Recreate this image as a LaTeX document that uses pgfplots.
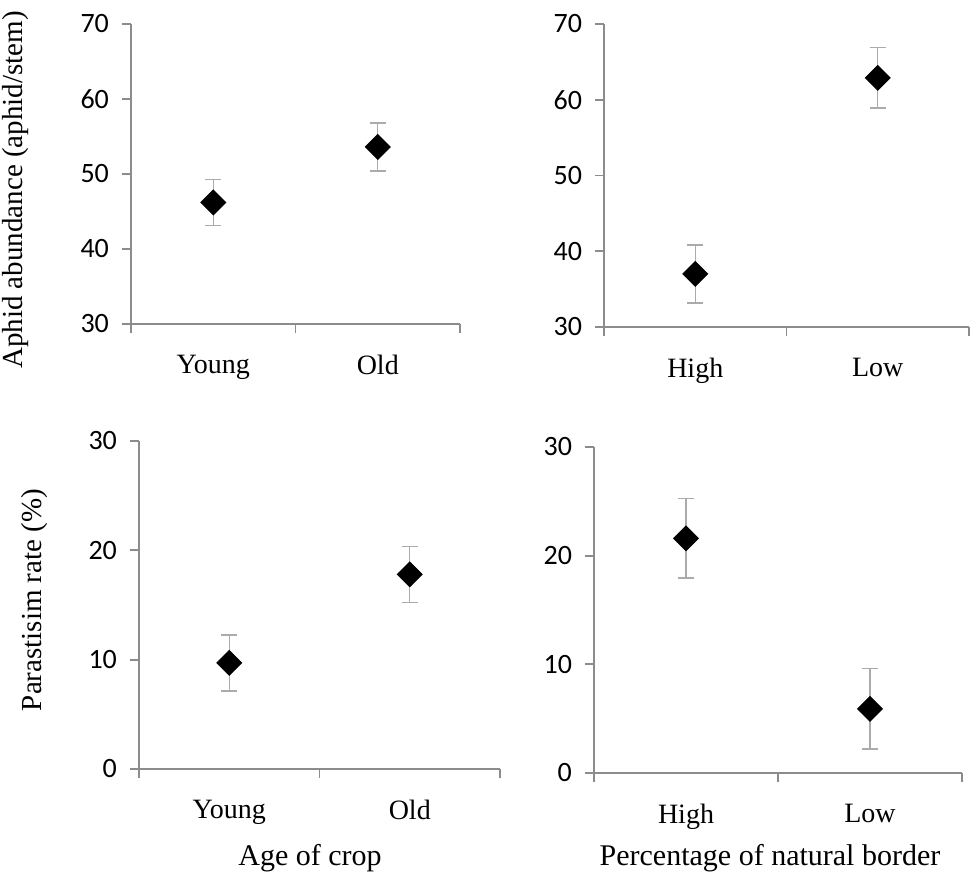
\documentclass[border=0pt]{standalone}
\usepackage{fontspec}
\setmainfont{Liberation Serif}
\newfontfamily\calibri{Carlito}
\usepackage{pgfplots}
\pgfplotsset{compat=1.18}
\definecolor{axgray}{HTML}{8C8C8C}
\definecolor{errgray}{HTML}{ABABAB}
\pgfplotsset{
 panel/.style={
  scale only axis,
  anchor=south west,
  axis x line*=bottom, axis y line*=left,
  axis line style={axgray, line width=0.9pt, -},
  xmin=-0.5, xmax=1.5,
  xtick={-0.5,0.5,1.5}, xticklabels={},
  extra x ticks={0,1},
  extra x tick style={major tick length=0pt, xticklabel style={font=\fontsize{14}{14}\selectfont, yshift=-12pt}},
  tick align=outside,
  major tick length=4.5pt,
  every tick/.style={axgray, line width=0.9pt},
  yticklabel style={font=\calibri\fontsize{14}{14}\selectfont, xshift=-3pt},
  /pgf/number format/assume math mode=true,
  clip=false,
 },
 pts/.style={only marks, mark=square*, mark size=4.4pt,
  mark options={rotate=45, fill=black, draw=black},
  error bars/.cd, y dir=both, y explicit,
  error bar style={errgray, line width=0.7pt},
  error mark=-,
  error mark options={errgray, mark size=4pt, line width=0.7pt, rotate=90}}
}
\begin{document}
\begin{tikzpicture}
\useasboundingbox (0,0) rectangle (485pt,444pt);
% top left
\begin{axis}[panel, at={(65.5pt,282pt)}, width=164.5pt, height=150pt,
  ymin=30, ymax=70, ytick={30,40,50,60,70}, extra x tick labels={Young,Old}]
\addplot[pts] table[x=x, y=y, y error=e] {
x y e
0 46.2 3.1
1 53.6 3.2
};
\end{axis}
% top right
\begin{axis}[panel, at={(302pt,280.5pt)}, width=182.5pt, height=151.5pt,
  ymin=30, ymax=70, ytick={30,40,50,60,70}, extra x tick labels={High,Low}]
\addplot[pts] table[x=x, y=y, y error=e] {
x y e
0 37.0 3.85
1 62.9 4.0
};
\end{axis}
% bottom left
\begin{axis}[panel, at={(69.5pt,59.5pt)}, width=180.5pt, height=164pt,
  ymin=0, ymax=30, ytick={0,10,20,30}, extra x tick labels={Young,Old}]
\addplot[pts] table[x=x, y=y, y error=e] {
x y e
0 9.7 2.55
1 17.8 2.57
};
\end{axis}
% bottom right
\begin{axis}[panel, at={(297pt,57.5pt)}, width=184pt, height=163pt,
  ymin=0, ymax=30, ytick={0,10,20,30}, extra x tick labels={High,Low}]
\addplot[pts] table[x=x, y=y, y error=e] {
x y e
0 21.6 3.65
1 5.9 3.7
};
\end{axis}
\node[rotate=90, font=\fontsize{14.5}{14.5}\selectfont] at (8pt,349pt) {Aphid abundance (aphid/stem)};
\node[rotate=90, font=\fontsize{14.5}{14.5}\selectfont] at (17.5pt,144pt) {Parastisim rate (\%)};
\node[font=\fontsize{15}{15}\selectfont] at (155pt,15pt) {Age of crop};
\node[font=\fontsize{15}{15}\selectfont] at (385pt,15pt) {Percentage of natural border};
\end{tikzpicture}
\end{document}
